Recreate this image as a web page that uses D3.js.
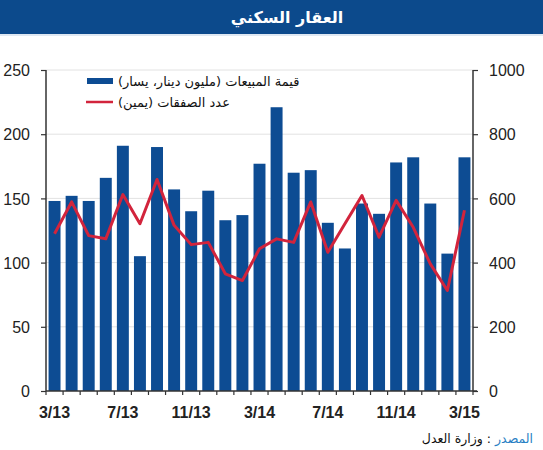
<!DOCTYPE html>
<html><head><meta charset="utf-8">
<script src="https://cdn.jsdelivr.net/npm/d3@7"></script>
<style>
body{margin:0;background:#fff;}
svg{display:block;font-family:"Liberation Sans",Arial,sans-serif;}
</style></head>
<body><svg id="c" width="543" height="450"></svg>
<script>
const months = ["3/13","4/13","5/13","6/13","7/13","8/13","9/13","10/13","11/13","12/13","1/14","2/14","3/14","4/14","5/14","6/14","7/14","8/14","9/14","10/14","11/14","12/14","1/15","2/15","3/15"];
const salesValue = [148,152,148,166,191,105,190,157,140,156,133,137,177,221,170,172,131,111,146,138,178,182,146,107,182];
const transactions = [490,589,484,474,612,521,659,516,456,463,365,344,443,474,463,589,432,521,609,479,594,510,396,313,563];
const xTickLabels = ["3/13","7/13","11/13","3/14","7/14","11/14","3/15"];
const leftTicks = [0,50,100,150,200,250];
const rightTicks = [0,200,400,600,800,1000];
const title = "العقار السكني";
const legendSales = "قيمة المبيعات (مليون دينار، يسار)";
const legendTx = "عدد الصفقات (يمين)";
const sourceLabel = "المصدر";
const sourceText = " : وزارة العدل";

const blue = "#0d4c93", red = "#d2243c";
const svg = d3.select("#c");
const L = 46, R = 473, T = 70, B = 391;

// title bar
svg.append("rect").attr("x",0).attr("y",0).attr("width",543).attr("height",34).attr("fill","#0c4a8c");
svg.append("rect").attr("x",0).attr("y",34).attr("width",543).attr("height",2).attr("fill","#dfe8f2");
svg.append("text").attr("x",287).attr("y",23).attr("text-anchor","middle").attr("fill","#fff")
  .attr("font-size",16).attr("font-weight","bold").attr("font-family","'DejaVu Sans','Noto Sans',sans-serif")
  .attr("direction","rtl").text(title);

const x = d3.scaleBand().domain(months).range([L,R]).paddingInner(0.3).paddingOuter(0.15);
const yL = d3.scaleLinear().domain([0,250]).range([B,T]);
const yR = d3.scaleLinear().domain([0,1000]).range([B,T]);

// gridlines
svg.append("g").selectAll("line").data(leftTicks.slice(1)).join("line")
  .attr("x1",L).attr("x2",R).attr("y1",d=>yL(d)).attr("y2",d=>yL(d))
  .attr("stroke","#e2e2e2").attr("stroke-width",1);

// bars
svg.append("g").selectAll("rect").data(salesValue).join("rect")
  .attr("x",(d,i)=>x(months[i])).attr("width",x.bandwidth())
  .attr("y",d=>yL(d)).attr("height",d=>B-yL(d)).attr("fill",blue);

// line
const line = d3.line().x((d,i)=>x(months[i])+x.bandwidth()/2).y(d=>yR(d));
svg.append("path").datum(transactions).attr("d",line).attr("fill","none")
  .attr("stroke",red).attr("stroke-width",3).attr("stroke-linejoin","round");

// axes
const fontAx = "'Liberation Sans',Arial,sans-serif";
const gL = svg.append("g").attr("transform",`translate(${L},0)`)
  .call(d3.axisLeft(yL).tickValues(leftTicks).tickSize(5).tickPadding(11).tickFormat(d3.format("d")));
const gR = svg.append("g").attr("transform",`translate(${R},0)`)
  .call(d3.axisRight(yR).tickValues(rightTicks).tickSize(5).tickPadding(11).tickFormat(d3.format("d")));
[gL,gR].forEach(g=>{
  g.select(".domain").attr("stroke","#333").attr("stroke-width",1.5).attr("d",`M0,${T}V${B}`);
  g.selectAll(".tick line").attr("stroke","#333").attr("stroke-width",1.2);
  g.selectAll("text").attr("font-size",16).attr("font-family",fontAx).attr("fill","#222").attr("dy","0.35em");
});

// x axis
const gx = svg.append("g");
gx.append("line").attr("x1",L).attr("x2",R+4).attr("y1",B).attr("y2",B).attr("stroke","#333").attr("stroke-width",1.5);
const edges = months.map(m=>x(m)-x.step()*x.paddingInner()/2).concat([R]);
gx.selectAll("line.t").data(edges).join("line").attr("class","t")
  .attr("x1",d=>d).attr("x2",d=>d).attr("y1",B).attr("y2",B+4).attr("stroke","#333").attr("stroke-width",1.2);
gx.selectAll("text").data(xTickLabels).join("text")
  .attr("x",d=>x(d)+x.bandwidth()/2).attr("y",418).attr("text-anchor","middle")
  .attr("font-size",16).attr("font-weight","bold").attr("font-family",fontAx).attr("fill","#222").text(d=>d);

// legend
const lg = svg.append("g");
lg.append("rect").attr("x",87).attr("y",78).attr("width",26).attr("height",6).attr("fill",blue);
lg.append("line").attr("x1",86).attr("x2",113).attr("y1",102).attr("y2",102).attr("stroke",red).attr("stroke-width",2.5);
lg.append("text").attr("x",118).attr("y",86).attr("direction","rtl").attr("text-anchor","end")
  .attr("font-size",13).attr("font-family","'DejaVu Sans',sans-serif").attr("fill","#111").text(legendSales);
lg.append("text").attr("x",118).attr("y",107).attr("direction","rtl").attr("text-anchor","end")
  .attr("font-size",13).attr("font-family","'DejaVu Sans',sans-serif").attr("fill","#111").text(legendTx);

// source
const st = svg.append("text").attr("x",533).attr("y",443).attr("direction","rtl").attr("text-anchor","start")
  .attr("font-size",12.5).attr("font-family","'DejaVu Sans',sans-serif");
st.append("tspan").attr("fill","#2a7fc4").text(sourceLabel);
st.append("tspan").attr("fill","#111").text(sourceText);
</script></body></html>
